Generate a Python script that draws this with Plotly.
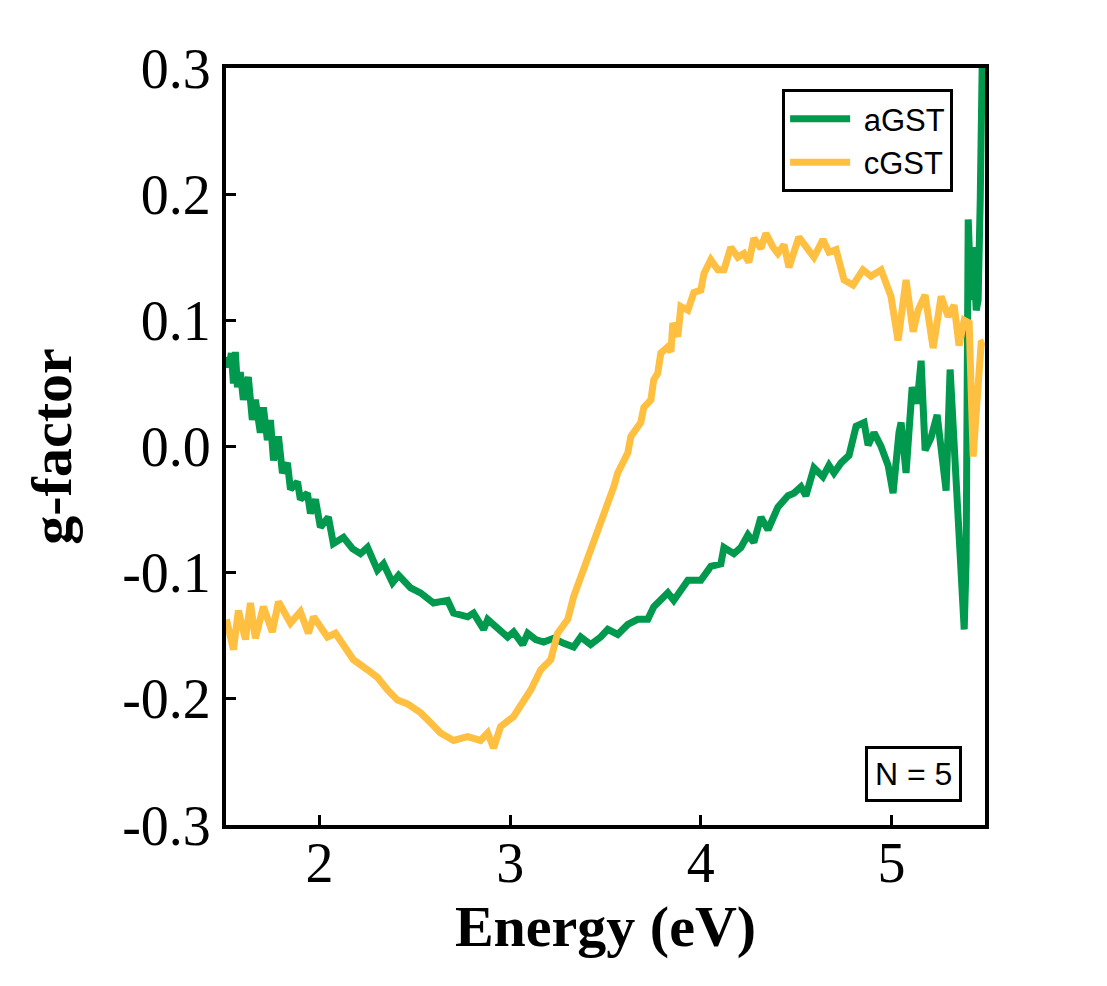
import plotly.graph_objects as go

# aGST curve
agst_e = [1.512, 1.527, 1.538, 1.549, 1.559, 1.570, 1.585, 1.601, 1.627, 1.648,
          1.664, 1.690, 1.706, 1.727, 1.743, 1.759, 1.785, 1.806, 1.832, 1.848,
          1.885, 1.900, 1.937, 1.953, 1.979, 2.005, 2.047, 2.073, 2.126, 2.173,
          2.215, 2.252, 2.304, 2.336, 2.383, 2.415, 2.478, 2.530, 2.598, 2.672,
          2.703, 2.777, 2.808, 2.861, 2.882, 2.950, 2.987, 3.018, 3.066, 3.092,
          3.134, 3.176, 3.228, 3.281, 3.333, 3.370, 3.422, 3.475, 3.512, 3.564,
          3.617, 3.669, 3.722, 3.753, 3.827, 3.858, 3.932, 4.000, 4.052, 4.105,
          4.121, 4.173, 4.210, 4.247, 4.278, 4.315, 4.352, 4.404, 4.457, 4.488,
          4.525, 4.551, 4.593, 4.640, 4.672, 4.698, 4.735, 4.777, 4.814, 4.856,
          4.877, 4.908, 4.945, 4.982, 5.008, 5.039, 5.050, 5.076, 5.108, 5.134,
          5.155, 5.176, 5.207, 5.239, 5.260, 5.286, 5.307, 5.328, 5.354, 5.381,
          5.391, 5.402, 5.417, 5.428, 5.444, 5.454, 5.465, 5.475]
agst_g = [0.071, 0.063, 0.074, 0.050, 0.075, 0.047, 0.059, 0.037, 0.055, 0.021,
          0.037, 0.011, 0.031, 0.005, 0.021, -0.011, 0.008, -0.021, -0.013, -0.034,
          -0.028, -0.042, -0.037, -0.053, -0.042, -0.064, -0.056, -0.077, -0.072, -0.081,
          -0.085, -0.080, -0.098, -0.093, -0.108, -0.102, -0.112, -0.116, -0.124, -0.122,
          -0.132, -0.135, -0.132, -0.145, -0.137, -0.145, -0.151, -0.147, -0.157, -0.148,
          -0.153, -0.155, -0.152, -0.156, -0.159, -0.151, -0.157, -0.151, -0.145, -0.149,
          -0.141, -0.137, -0.137, -0.127, -0.116, -0.122, -0.106, -0.106, -0.095, -0.093,
          -0.080, -0.085, -0.080, -0.070, -0.076, -0.056, -0.066, -0.048, -0.039, -0.037,
          -0.032, -0.039, -0.017, -0.024, -0.015, -0.021, -0.013, -0.007, 0.016, 0.019,
          0.001, 0.011, 0.000, -0.015, -0.037, 0.011, 0.019, -0.021, 0.047, 0.034,
          0.068, -0.003, 0.007, 0.025, 0.000, -0.035, 0.061, 0.003, -0.048, -0.145,
          -0.090, 0.180, 0.116, 0.158, 0.108, 0.116, 0.195, 0.300]

# cGST curve
cgst_e = [1.512, 1.549, 1.575, 1.612, 1.638, 1.664, 1.706, 1.753, 1.785, 1.848,
          1.900, 1.942, 1.969, 2.042, 2.084, 2.147, 2.178, 2.252, 2.304, 2.357,
          2.409, 2.462, 2.530, 2.583, 2.635, 2.703, 2.777, 2.845, 2.882, 2.913,
          2.950, 3.018, 3.071, 3.108, 3.160, 3.213, 3.249, 3.302, 3.333, 3.386,
          3.438, 3.491, 3.543, 3.564, 3.617, 3.633, 3.685, 3.701, 3.738, 3.753,
          3.774, 3.790, 3.827, 3.843, 3.853, 3.879, 3.895, 3.932, 3.963, 4.000,
          4.016, 4.052, 4.089, 4.121, 4.157, 4.194, 4.226, 4.252, 4.278, 4.315,
          4.341, 4.378, 4.404, 4.436, 4.462, 4.514, 4.562, 4.593, 4.640, 4.672,
          4.709, 4.751, 4.798, 4.850, 4.892, 4.945, 4.997, 5.034, 5.076, 5.113,
          5.139, 5.176, 5.218, 5.260, 5.297, 5.328, 5.354, 5.381, 5.407, 5.428,
          5.444, 5.470, 5.486]
cgst_g = [-0.137, -0.161, -0.130, -0.153, -0.124, -0.152, -0.127, -0.147, -0.123, -0.140,
          -0.131, -0.148, -0.135, -0.151, -0.148, -0.161, -0.169, -0.177, -0.183, -0.193,
          -0.201, -0.204, -0.211, -0.219, -0.227, -0.233, -0.230, -0.233, -0.227, -0.239,
          -0.222, -0.214, -0.201, -0.193, -0.177, -0.169, -0.148, -0.137, -0.119, -0.098,
          -0.077, -0.053, -0.032, -0.021, -0.005, 0.008, 0.019, 0.031, 0.037, 0.053,
          0.058, 0.074, 0.079, 0.075, 0.098, 0.087, 0.111, 0.108, 0.122, 0.124,
          0.137, 0.148, 0.140, 0.140, 0.158, 0.150, 0.153, 0.146, 0.165, 0.157,
          0.169, 0.158, 0.153, 0.160, 0.142, 0.166, 0.156, 0.150, 0.164, 0.154,
          0.156, 0.132, 0.128, 0.140, 0.135, 0.140, 0.119, 0.084, 0.132, 0.091,
          0.108, 0.120, 0.078, 0.119, 0.103, 0.112, 0.080, 0.100, 0.098, -0.008,
          0.027, 0.082, 0.083]

x_ticks = [2, 3, 4, 5]
y_ticks = [-0.3, -0.2, -0.1, 0.0, 0.1, 0.2, 0.3]
y_tick_text = ["-0.3", "-0.2", "-0.1", "0.0", "0.1", "0.2", "0.3"]

serif = "Liberation Serif, Times New Roman, serif"
sans = "Liberation Sans, Arial, sans-serif"

fig = go.Figure()
fig.add_trace(go.Scatter(x=agst_e, y=agst_g, mode="lines", name="&nbsp;aGST",
                         line=dict(color="#00994D", width=7)))
fig.add_trace(go.Scatter(x=cgst_e, y=cgst_g, mode="lines", name="&nbsp;cGST",
                         line=dict(color="#FFBF40", width=7)))

axis_common = dict(showline=True, linecolor="black", linewidth=4, mirror=True,
                   ticks="inside", ticklen=10, tickwidth=3, tickcolor="black",
                   showgrid=False, zeroline=False,
                   tickfont=dict(family=serif, size=56, color="black"))
title_font = dict(family=serif, size=58, color="black", weight="bold")

fig.update_xaxes(range=[1.51, 5.49], tickvals=x_ticks, ticklabelstandoff=-14,
                 title=dict(text="Energy (eV)", standoff=4, font=title_font),
                 **axis_common)
fig.update_yaxes(range=[-0.3, 0.3], tickvals=y_ticks, ticktext=y_tick_text,
                 title=dict(text="g-factor", standoff=33, font=title_font),
                 **axis_common)

# page body has an 8px margin, so the figure is 8px smaller than the window
fig.update_layout(
    width=1099, height=978,
    margin=dict(l=218, r=122, t=60, b=161),
    paper_bgcolor="white", plot_bgcolor="white",
    showlegend=True,
    legend=dict(x=0.958, y=0.972, xanchor="right", yanchor="top",
                bordercolor="black", borderwidth=3, bgcolor="white",
                font=dict(family=sans, size=31, color="black"),
                itemwidth=60, tracegroupgap=0),
    annotations=[dict(text="N = 5", xref="paper", yref="paper",
                      x=0.97, y=0.03, xanchor="right", yanchor="bottom",
                      showarrow=False, bordercolor="black", borderwidth=3,
                      borderpad=7, bgcolor="white",
                      font=dict(family=sans, size=32, color="black"))],
)

fig.write_html("out.html")
